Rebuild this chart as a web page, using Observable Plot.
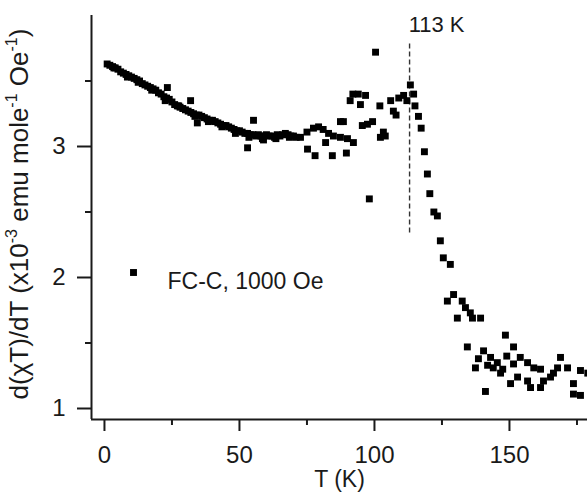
<!DOCTYPE html>
<html><head><meta charset="utf-8">
<script src="https://cdn.jsdelivr.net/npm/d3@7"></script>
<script src="https://cdn.jsdelivr.net/npm/@observablehq/plot@0.6"></script>
<style>body{margin:0;background:#fff} svg{display:block}</style>
</head><body><div id="chart"></div>
<script>
// FC-C, 1000 Oe series: temperature (K)
const temps = [
  1,2,3,4,5,6,7,8,9,10,11,12,13,14,15,16,17,18,19,20,21,22,23,24,25,26,27,28,29,30,
  31,32,33,34,35,36,37,38,39,40,41,42,43,44,45,46,47,48,49,50,51,52,53,54,55,56,57,58,59,60,
  61,62,63,64,65,66,67,68,69,70,71,
  3.5,8.5,12.5,17.5,22.5,27.5,33.5,38.5,43.5,48.5,53.5,58.5,63.5,68.5,
  23.3,31.9,34.4,55.2,53,58.9,
  72.6,75,77.4,79.3,81,83,84.8,87.4,90,92.2,81.9,75.2,78,84.4,89.6,87.4,88.5,
  92,94,96.7,91,94.8,95.5,97.4,99.3,103.3,102.2,104,100.4,98.1,102,106,107,108,109,110.8,112,
  113.3,114.5,115,116.3,117.3,118.5,119.6,120.5,122,123.3,124.4,125.5,128.1,127,129.3,132.5,
  133.7,135.5,130.7,136.3,139.3,134.4,140.4,138.5,137.4,141.9,141.1,148.5,151.5,143,149,144,
  146.7,154,156.7,159,161.5,151.5,153,150.4,156.7,157.8,162.6,166.3,168.9,171.5,176.3,173.7,
  173.7,176.3,167.8,165.2,161.5,179,145.5,147.5
];
// d(chi T)/dT (x10^-3 emu mole^-1 Oe^-1)
const values = [
  3.63,3.62,3.61,3.60,3.59,3.57,3.56,3.55,3.54,3.53,3.52,3.51,3.50,3.48,3.47,3.46,3.45,3.44,3.43,3.41,
  3.40,3.38,3.37,3.36,3.34,3.32,3.31,3.30,3.29,3.28,3.27,3.26,3.25,3.24,3.24,3.23,3.22,3.21,3.20,3.20,
  3.19,3.18,3.17,3.16,3.16,3.15,3.14,3.13,3.12,3.12,3.11,3.10,3.10,3.09,3.09,3.08,3.09,3.08,3.08,3.09,
  3.08,3.08,3.07,3.09,3.08,3.09,3.10,3.09,3.08,3.08,3.07,
  3.60,3.53,3.49,3.43,3.35,3.31,3.23,3.19,3.15,3.10,3.07,3.06,3.06,3.07,
  3.45,3.35,3.18,3.20,2.99,3.05,
  3.07,3.11,3.14,3.15,3.13,3.10,3.08,3.07,3.06,3.03,3.03,2.98,2.93,2.93,2.95,3.19,3.19,
  3.40,3.40,3.39,3.35,3.32,3.16,3.17,3.19,3.11,3.07,3.08,3.72,2.60,3.31,3.35,3.27,3.24,3.37,3.39,3.35,
  3.47,3.40,3.31,3.23,3.14,2.96,2.79,2.64,2.50,2.47,2.28,2.15,2.10,1.82,1.87,1.82,
  1.77,1.73,1.69,1.69,1.69,1.47,1.44,1.38,1.31,1.33,1.13,1.56,1.47,1.39,1.40,1.31,
  1.27,1.39,1.35,1.31,1.30,1.34,1.24,1.19,1.21,1.16,1.21,1.27,1.39,1.31,1.29,1.19,
  1.11,1.10,1.31,1.24,1.16,1.27,1.35,1.30
];
const xTicks = [0, 50, 100, 150];
const xMinorTicks = [25, 75, 125, 175];
const yTicks = [1, 2, 3];
const yMinorTicks = [1.5, 2.5, 3.5];
const xDomain = [-4.8, 178.9];
const yDomain = [0.916, 4.0];
const transitionT = 113;
const transitionSpan = [2.34, 3.79];
const transitionLabel = "113 K";
const seriesLabel = "FC-C, 1000 Oe";
const xLabel = "T (K)";

const data = temps.map((t, i) => ({T: t, v: values[i]}));
const font = "'Liberation Sans', Arial, sans-serif";
const ink = "#1a1a1a";
const fmt = d => String(d);

const plot = Plot.plot({
  width: 587, height: 502,
  marginLeft: 91, marginRight: 0, marginTop: 15, marginBottom: 83,
  style: {fontFamily: font, color: ink, background: "#fff", overflow: "visible"},
  x: {domain: xDomain},
  y: {domain: yDomain},
  marks: [
    Plot.ruleX([xDomain[0]], {stroke: ink, strokeWidth: 2}),
    Plot.ruleY([yDomain[0]], {stroke: ink, strokeWidth: 2}),
    Plot.axisX({ticks: xTicks, tickSize: 12, tickPadding: 14, fontSize: 24, tickFormat: fmt, label: null, strokeWidth: 2, stroke: ink, fill: ink}),
    Plot.axisX({ticks: xMinorTicks, tickSize: 6, tickFormat: () => "", label: null, strokeWidth: 2, stroke: ink}),
    Plot.axisY({ticks: yTicks, tickSize: 14, tickPadding: 12, fontSize: 24, tickFormat: fmt, label: null, strokeWidth: 2, stroke: ink, fill: ink}),
    Plot.axisY({ticks: yMinorTicks, tickSize: 6, tickFormat: () => "", label: null, strokeWidth: 2, stroke: ink}),
    Plot.ruleX([transitionT], {y1: transitionSpan[0], y2: transitionSpan[1], stroke: "#333", strokeWidth: 1.4, strokeDasharray: "5,3"}),
    Plot.text([transitionLabel], {x: transitionT, frameAnchor: "top", dx: 27, dy: 1, fontSize: 22, fill: ink, text: d => d}),
    Plot.dot(data, {x: "T", y: "v", symbol: "square", r: 3.9, fill: "#000", stroke: "none"}),
    Plot.dot([seriesLabel], {frameAnchor: "top-left", dx: 42, dy: 257, symbol: "square", r: 3.9, fill: "#000", stroke: "none"}),
    Plot.text([seriesLabel], {frameAnchor: "top-left", dx: 76, dy: 257, textAnchor: "start", fontSize: 23, fill: ink, text: d => d}),
    Plot.text([xLabel], {frameAnchor: "bottom", dy: 67, fontSize: 23, fill: ink, text: d => d})
  ]
});
document.getElementById("chart").appendChild(plot);

// Y-axis title with superscripts
const svg = d3.select(plot);
const yt = svg.append("text")
  .attr("transform", "translate(21,214) rotate(-90)")
  .attr("text-anchor", "middle")
  .attr("dominant-baseline", "middle")
  .attr("font-family", font)
  .attr("font-size", 26)
  .attr("fill", ink);
const parts = [["d(χT)/dT (x10", 0], ["-3", 1], [" emu mole", 0], ["-1", 1], [" Oe", 0], ["-1", 1], [")", 0]];
parts.forEach(([s, sup]) => {
  const ts = yt.append("tspan").text(s);
  if (sup) ts.attr("font-size", 16).attr("baseline-shift", "super");
});
</script>
</body></html>
